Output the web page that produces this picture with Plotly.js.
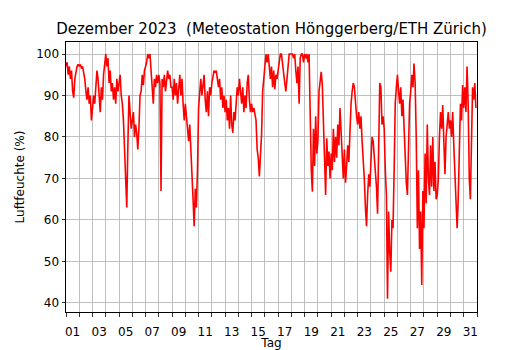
<!DOCTYPE html>
<html>
<head>
<meta charset="utf-8">
<script src="https://cdn.plot.ly/plotly-3.0.1.min.js"></script>
<style>html,body{margin:0;padding:0;background:#fff;}#chart{width:530px;height:350px;}</style>
</head>
<body>
<div id="chart"></div>
<script>
// Relative humidity (%), Dec 2023: 12 readings per day (00h, 02h, ..., 22h)
const dez01_07 = [
  97, 98, 95, 97, 94, 96, 91, 89.5, 94, 96, 97, 97.5,
  97, 97.5, 96.5, 97, 95.5, 94, 91, 89, 92, 88, 90, 84,
  87, 90, 88, 93, 96, 94, 90, 86, 92, 89, 95, 98,
  100, 97, 99, 93, 96, 91, 93, 89, 92, 88, 94, 91,
  93, 95, 90, 88, 84, 76, 71, 63, 78, 90, 86, 82,
  84, 86, 80, 83, 81, 77, 82, 90, 91, 95, 92.5, 96,
  97, 98, 100, 99, 100, 96, 93, 88, 94, 92, 95, 93
];
const dez08_14 = [
  95, 93, 67, 94, 92, 95, 91, 94, 96, 94, 95, 92,
  92, 89, 94, 90, 93, 88, 92, 95, 90, 94, 88, 84,
  88, 84.5, 82, 79, 83, 75.5, 70, 65, 58.5, 67.5, 63, 72,
  87, 91, 94, 90, 93, 95, 89, 86, 91, 85, 92, 90,
  93, 95, 96, 95.5, 96, 94, 92, 94, 89, 92, 87, 90,
  86, 89, 84, 87, 82, 90, 83, 81, 86, 84, 88, 92,
  90, 94, 91, 88, 92, 86, 90, 87, 93, 95, 89, 86
];
const dez15_21 = [
  88, 86, 87, 85, 84, 77, 75, 70.5, 76.5, 80.5, 91, 95,
  97, 100, 98, 100, 96, 94, 97, 92, 96, 91.5, 95, 94,
  96, 99, 100, 100, 97, 95, 93, 91, 94, 97, 100, 100,
  100, 100, 99, 100, 96, 93, 97, 88, 99, 100, 100, 98,
  100, 99, 100, 98, 100, 80, 72, 66.8, 82, 73, 85, 76,
  79, 91, 93.3, 95.7, 92.5, 83, 75.6, 66, 79.7, 73, 76.5, 70,
  76, 72, 82, 74, 80, 75, 83, 78, 87, 80, 74, 70
];
const dez22_28 = [
  77, 69, 73, 78, 74, 82, 88, 91, 93, 92, 88, 85,
  83, 86, 82, 85, 79, 75, 70, 63, 58.5, 66, 71, 68,
  74, 80, 79, 76, 73, 68, 61.5, 84, 93, 92, 83, 85,
  82, 72, 66, 41, 62, 52, 47.5, 60, 58, 72, 88, 92,
  95, 91, 88, 92, 85, 89, 82, 75, 69, 66, 80, 88,
  91, 95, 92, 97.7, 93, 80, 58, 72, 53, 62, 44.3, 67,
  58, 76, 64, 83, 70, 66, 78, 68, 80, 67, 74, 65
];
const dez29_31 = [
  66, 70, 80, 86, 82, 87.7, 79, 71, 80, 84, 86, 82,
  84, 80, 86, 78, 72, 66, 58, 65, 78, 88, 84, 92.5,
  87, 92, 86, 97, 88, 70, 65, 85, 92, 89, 93, 87
];
const tagLabels = ['01','03','05','07','09','11','13','15','17','19','21','23','25','27','29','31'];
const proTag = 12;

const werte = [].concat(dez01_07, dez08_14, dez15_21, dez22_28, dez29_31);
const zeit = werte.map((_, i) => 1 + i / proTag);   // day of month as fractional days

const dayTicks = [];
for (let d = 1; d <= 32; d++) dayTicks.push(d);
const labelPos = tagLabels.map(t => parseInt(t, 10) + 0.5);

const font = {family: 'DejaVu Sans, sans-serif', color: '#000'};

const traces = [
  {x: zeit, y: werte, type: 'scatter', mode: 'lines',
   line: {color: '#ff0000', width: 1.6}, hoverinfo: 'skip', xaxis: 'x', yaxis: 'y'},
  {x: [], y: [], type: 'scatter', mode: 'lines', xaxis: 'x2', yaxis: 'y', showlegend: false}
];

const layout = {
  width: 530, height: 350,
  margin: {l: 66, r: 53, t: 42, b: 38, pad: 0},
  paper_bgcolor: '#fff', plot_bgcolor: '#fff',
  showlegend: false,
  font: Object.assign({size: 12}, font),
  title: {text: 'Dezember 2023 \u00a0(Meteostation Hönggerberg/ETH Zürich)',
          font: Object.assign({size: 15}, font),
          x: 0.5, xref: 'paper', xanchor: 'center',
          y: 1 - 29/350, yref: 'container', yanchor: 'middle'},
  xaxis: {
    range: [1, 32], tickmode: 'array', tickvals: dayTicks,
    ticktext: dayTicks.map(() => ''),
    ticks: 'outside', ticklen: 3.5, tickwidth: 0.8, tickcolor: '#000',
    showgrid: true, gridcolor: '#b0b0b0', gridwidth: 0.8,
    showline: true, linecolor: '#000', linewidth: 1, mirror: true,
    zeroline: false, fixedrange: true
  },
  xaxis2: {
    overlaying: 'x', matches: 'x', side: 'bottom',
    range: [1, 32], tickmode: 'array', tickvals: labelPos, ticktext: tagLabels,
    ticks: 'outside', ticklen: 9, tickcolor: 'rgba(0,0,0,0)',
    showgrid: false, zeroline: false, showline: false,
    tickfont: Object.assign({size: 12}, font),
    title: {text: 'Tag', font: Object.assign({size: 12}, font), standoff: 6},
    automargin: false
  },
  yaxis: {
    range: [37.8, 102.9], tickmode: 'array', tickvals: [40,50,60,70,80,90,100],
    ticks: 'outside', ticklen: 3.5, tickwidth: 0.8, tickcolor: '#000',
    tickfont: Object.assign({size: 12}, font),
    showgrid: true, gridcolor: '#b0b0b0', gridwidth: 0.8,
    showline: true, linecolor: '#000', linewidth: 1, mirror: true,
    zeroline: false,
    title: {text: 'Luftfeuchte (%)', font: Object.assign({size: 12}, font), standoff: 8},
    automargin: false
  }
};

Plotly.newPlot('chart', traces, layout, {staticPlot: true, displayModeBar: false});
</script>
</body>
</html>
